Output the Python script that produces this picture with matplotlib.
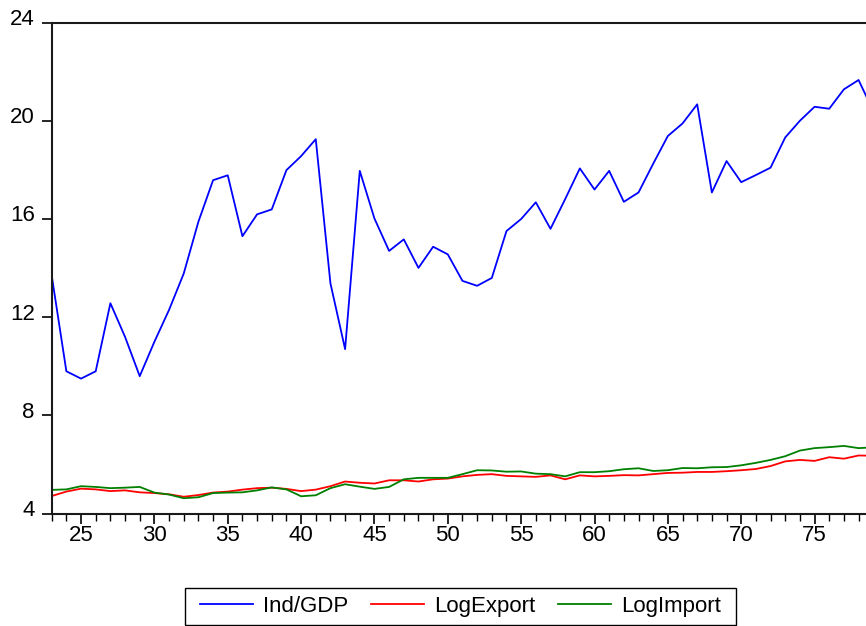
import numpy as np
import matplotlib
matplotlib.use("Agg")
import matplotlib.pyplot as plt
import matplotlib.transforms as mtransforms
from matplotlib.patches import Rectangle
from matplotlib.ticker import MultipleLocator

plt.rcParams['font.family'] = ['Liberation Sans', 'DejaVu Sans']

# observation index (years, two digits)
years = list(range(23, 80))

ind_gdp = [13.7, 9.8, 9.5, 9.8, 12.57, 11.2, 9.6, 11.0, 12.3, 13.78,
           15.89, 17.58, 17.78, 15.30, 16.19, 16.39, 17.99, 18.56, 19.25, 13.38,
           10.7, 17.96, 16.02, 14.70, 15.17, 14.01, 14.87, 14.56, 13.48, 13.28,
           13.60, 15.51, 16.0, 16.68, 15.60, 16.81, 18.06, 17.20, 17.96, 16.70,
           17.08, 18.25, 19.38, 19.89, 20.67, 17.08, 18.36, 17.50, 17.79, 18.09,
           19.32, 20.0, 20.57, 20.49, 21.28, 21.66, 20.4]

log_export = [4.72, 4.90, 5.02, 4.99, 4.92, 4.95, 4.87, 4.84, 4.79, 4.69,
              4.76, 4.86, 4.90, 4.98, 5.04, 5.06, 5.01, 4.92, 4.98, 5.12,
              5.31, 5.26, 5.23, 5.36, 5.36, 5.31, 5.40, 5.43, 5.52, 5.58,
              5.61, 5.54, 5.52, 5.50, 5.56, 5.40, 5.56, 5.52, 5.54, 5.57,
              5.56, 5.61, 5.66, 5.67, 5.70, 5.70, 5.73, 5.77, 5.82, 5.94,
              6.13, 6.19, 6.15, 6.30, 6.24, 6.37, 6.36]

log_import = [4.97, 4.99, 5.12, 5.09, 5.04, 5.06, 5.09, 4.86, 4.78, 4.63,
              4.67, 4.84, 4.86, 4.87, 4.95, 5.07, 4.99, 4.71, 4.75, 5.04,
              5.20, 5.10, 5.01, 5.09, 5.40, 5.46, 5.46, 5.46, 5.61, 5.77,
              5.76, 5.71, 5.72, 5.63, 5.61, 5.52, 5.69, 5.69, 5.73, 5.81,
              5.85, 5.74, 5.77, 5.86, 5.85, 5.89, 5.90, 5.97, 6.07, 6.19,
              6.34, 6.57, 6.67, 6.71, 6.76, 6.67, 6.70]

W, H = 866, 626
fig = plt.figure(figsize=(W / 100, H / 100), dpi=100)
# plot area runs on past the right edge of the figure
ax = fig.add_axes([0.0597, 0.1794, 0.9656, 0.7846])

ax.plot(years, ind_gdp, color='#0000FF', lw=1.3, label='Ind/GDP')
ax.plot(years, log_export, color='#FF0000', lw=1.3, label='LogExport')
ax.plot(years, log_import, color='#008000', lw=1.3, label='LogImport')

ax.set_xlim(23, 80)
ax.set_ylim(4, 24)
ax.set_yticks([4, 8, 12, 16, 20, 24])
ax.xaxis.set_major_locator(MultipleLocator(5))
ax.xaxis.set_minor_locator(MultipleLocator(1))
ax.set_xticks(range(25, 80, 5))

for s in ax.spines.values():
    s.set_linewidth(1.5)
    s.set_color('#1a1a1a')

ax.tick_params(axis='x', which='major', length=7.5, width=1.2, direction='out',
               labelsize=16, pad=0.5)
ax.tick_params(axis='x', which='minor', length=4.8, width=1.0, direction='out')
ax.tick_params(axis='y', which='major', length=7.2, width=1.2, direction='out',
               labelsize=16, pad=5)

# y labels sit a little above their ticks
shift = mtransforms.ScaledTranslation(0, 4 / 72, fig.dpi_scale_trans)
for lbl in ax.get_yticklabels():
    lbl.set_transform(lbl.get_transform() + shift)

# legend entries without frame, box drawn separately (wider side margins)
leg = fig.legend(loc='center', bbox_to_anchor=(460.4 / W, 1 - 606.5 / H),
                 ncol=3, fontsize=16, frameon=False,
                 handlelength=2.4, handletextpad=0.45,
                 columnspacing=1.0, borderpad=0.35)
for line in leg.get_lines():
    line.set_linewidth(1.3)

box = Rectangle((185 / W, 1 - 625 / H), (736 - 185) / W, 37 / H,
                transform=fig.transFigure, fill=False, edgecolor='black',
                linewidth=1.0)
fig.add_artist(box)

fig.savefig('out.png', dpi=100)
